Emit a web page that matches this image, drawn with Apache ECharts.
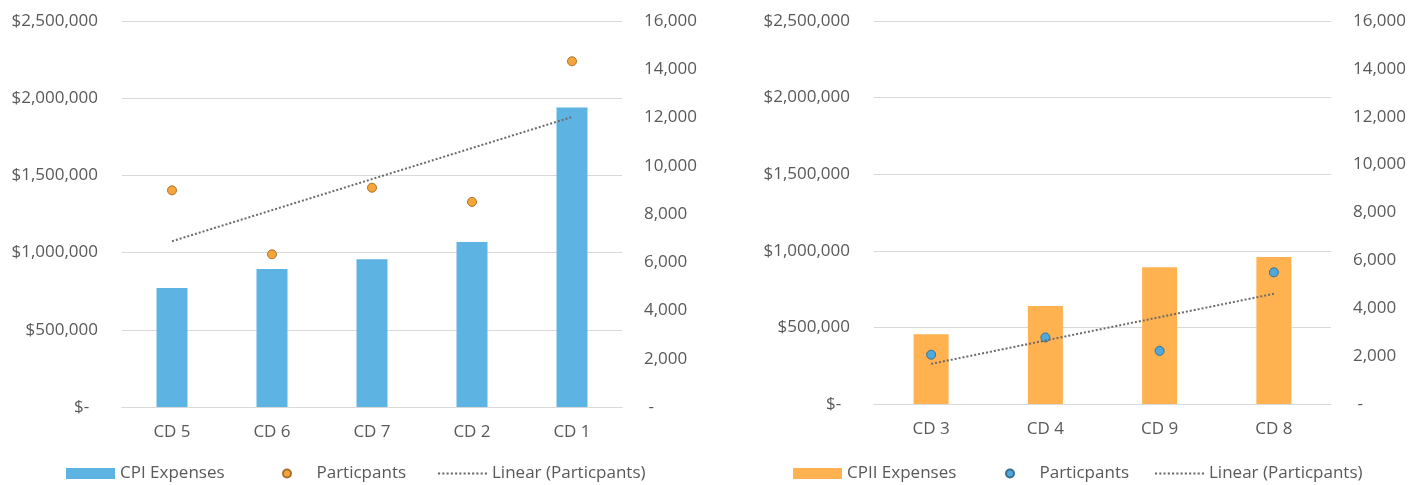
<!DOCTYPE html>
<html>
<head>
<meta charset="utf-8">
<script src="https://cdn.jsdelivr.net/npm/echarts@6/dist/echarts.min.js"></script>
<style>
  html, body { margin: 0; padding: 0; background: #fff; }
  #chart { width: 1425px; height: 485px; }
</style>
</head>
<body>
<div id="chart"></div>
<script>
// CPI (left panel)
const cpiCategories = ['CD 5', 'CD 6', 'CD 7', 'CD 2', 'CD 1']
const cpiExpenses = [770000, 893000, 957000, 1069000, 1940000]
const cpiParticipants = [8980, 6330, 9090, 8500, 14330]

// CPII (right panel)
const cpiiCategories = ['CD 3', 'CD 4', 'CD 9', 'CD 8']
const cpiiExpenses = [456000, 639000, 893000, 960000]
const cpiiParticipants = [2060, 2780, 2220, 5500]

const expenseMax = 2500000
const expenseStep = 500000
const participantMax = 16000
const participantStep = 2000

const textColor = '#595959'
const gridColor = '#d9d9d9'
const fontFamily = '"Open Sans", sans-serif'
const fontSize = 17

// excel-style linear trendline (least squares over category index)
function linearFit(values) {
  const n = values.length
  let sx = 0, sy = 0, sxy = 0, sxx = 0
  values.forEach((y, i) => {
    const x = i + 1
    sx += x; sy += y; sxy += x * y; sxx += x * x
  })
  const slope = (n * sxy - sx * sy) / (n * sxx - sx * sx)
  const icpt = (sy - slope * sx) / n
  return values.map((_, i) => Math.round(icpt + slope * (i + 1)))
}

function moneyFmt(v) {
  if (v === 0) return '$-  '
  return '$' + v.toLocaleString('en-US')
}
function countFmt(v) {
  if (v === 0) return ' -'
  return v.toLocaleString('en-US')
}

// dotted trendline swatch for the legend
const dotsIcon = 'path://' + Array.from({ length: 12 }, (_, i) => 'M' + (i * 4) + ',0h2v2h-2z').join('')

const axisText = { color: textColor, fontFamily, fontSize }

function yAxes(gridIndex) {
  return [{
    type: 'value',
    gridIndex,
    min: 0,
    max: expenseMax,
    interval: expenseStep,
    axisLine: { show: false },
    axisTick: { show: false },
    splitLine: { lineStyle: { color: gridColor, width: 1 } },
    axisLabel: { ...axisText, margin: 24, formatter: moneyFmt }
  }, {
    type: 'value',
    gridIndex,
    position: 'right',
    min: 0,
    max: participantMax,
    interval: participantStep,
    axisLine: { show: false },
    axisTick: { show: false },
    splitLine: { show: false },
    axisLabel: { ...axisText, margin: 22, formatter: countFmt }
  }]
}

function xAxis(gridIndex, data) {
  return {
    type: 'category',
    gridIndex,
    data,
    axisLine: { lineStyle: { color: gridColor, width: 1 } },
    axisTick: { show: false },
    axisLabel: { ...axisText, margin: 17 }
  }
}

function legend(left, name, label, opts) {
  return {
    left,
    top: 465,
    padding: 0,
    data: [name],
    selectedMode: false,
    itemWidth: 49,
    itemHeight: 11,
    itemGap: 0,
    formatter: () => label,
    textStyle: { color: textColor, fontFamily, fontSize },
    ...opts
  }
}

const chart = echarts.init(document.getElementById('chart'))

chart.setOption({
  animation: false,
  grid: [
    { left: 122, top: 21, width: 500, height: 386 },
    { left: 874, top: 21, width: 457, height: 383 }
  ],
  xAxis: [xAxis(0, cpiCategories), xAxis(1, cpiiCategories)],
  yAxis: [...yAxes(0), ...yAxes(1)],
  legend: [
    legend(66, 'CPI Expenses', 'CPI Expenses', { icon: 'rect' }),
    legend(282, 'Particpants', 'Particpants', { icon: 'circle', itemHeight: 8 }),
    legend(438, 'Linear (Particpants)', 'Linear (Particpants)', { icon: dotsIcon }),
    legend(793, 'CPII Expenses', 'CPII Expenses', { icon: 'rect' }),
    legend(1005, 'Particpants (CPII)', 'Particpants', { icon: 'circle', itemHeight: 8 }),
    legend(1155, 'Linear (Particpants) (CPII)', 'Linear (Particpants)', { icon: dotsIcon })
  ],
  series: [
    {
      name: 'CPI Expenses',
      type: 'bar',
      xAxisIndex: 0,
      yAxisIndex: 0,
      barWidth: 31,
      itemStyle: { color: '#5db4e3' },
      data: cpiExpenses
    },
    {
      name: 'Particpants',
      type: 'scatter',
      xAxisIndex: 0,
      yAxisIndex: 1,
      symbolSize: 9,
      itemStyle: { color: '#f5a53a', borderColor: '#a8712a', borderWidth: 1, opacity: 1 },
      data: cpiParticipants
    },
    {
      name: 'Linear (Particpants)',
      type: 'line',
      xAxisIndex: 0,
      yAxisIndex: 1,
      symbol: 'none',
      color: '#6a6a6a',
      lineStyle: { color: '#6a6a6a', width: 2, type: [2, 2] },
      data: linearFit(cpiParticipants)
    },
    {
      name: 'CPII Expenses',
      type: 'bar',
      xAxisIndex: 1,
      yAxisIndex: 2,
      barWidth: 35,
      itemStyle: { color: '#ffb24f' },
      data: cpiiExpenses
    },
    {
      name: 'Particpants (CPII)',
      type: 'scatter',
      xAxisIndex: 1,
      yAxisIndex: 3,
      symbolSize: 9,
      itemStyle: { color: '#4ea9dd', borderColor: '#3a6f90', borderWidth: 1, opacity: 1 },
      data: cpiiParticipants
    },
    {
      name: 'Linear (Particpants) (CPII)',
      type: 'line',
      xAxisIndex: 1,
      yAxisIndex: 3,
      symbol: 'none',
      color: '#6a6a6a',
      lineStyle: { color: '#6a6a6a', width: 2, type: [2, 2] },
      data: linearFit(cpiiParticipants)
    }
  ]
})
</script>
</body>
</html>
